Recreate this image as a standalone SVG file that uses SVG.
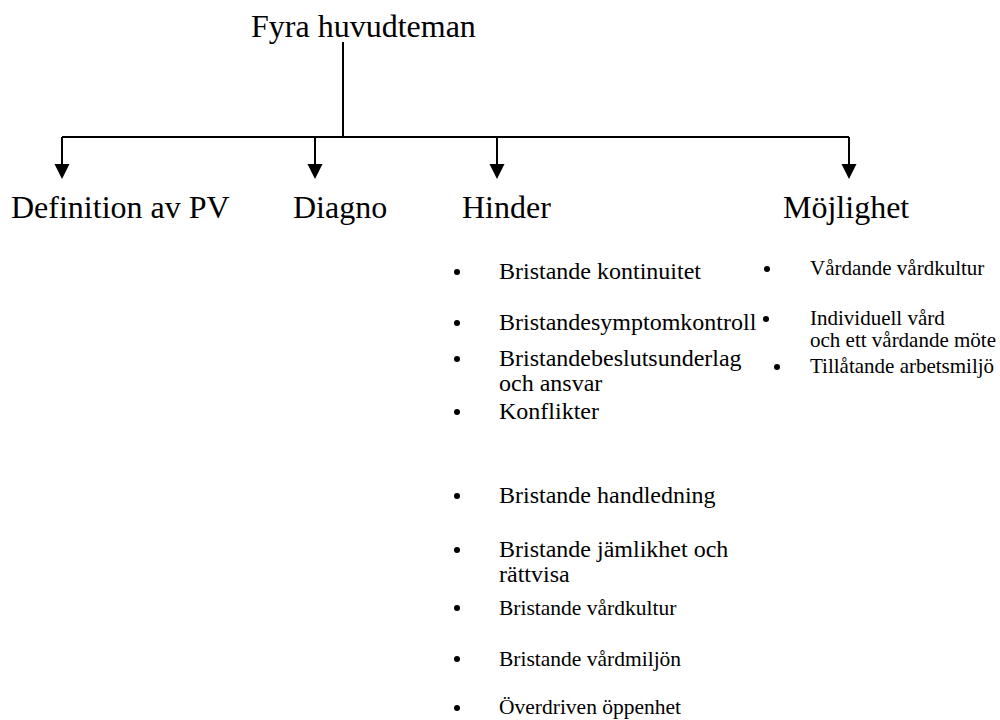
<svg xmlns="http://www.w3.org/2000/svg" width="1000" height="720" viewBox="0 0 1000 720">
<defs>
<style>
text{font-family:"Liberation Serif","Times New Roman",serif;fill:#000}
.big{font-size:32px}
.it{font-size:24px}
.sm{font-size:21.5px}
.xs{font-size:21px}
.ln{stroke:#000;stroke-width:2;fill:none}
.ar{fill:#000}
</style>
</defs>
<rect width="1000" height="720" fill="#fff"/>
<g id="connectors">
<path class="ln" d="M343,42 V137 M62,137 H849 M62,137 V166 M315,137 V166 M497,137 V166 M849,137 V166"/>
<path class="ar" d="M54.5,164 H69.5 L62,179 z M307.5,164 H322.5 L315,179 z M489.5,164 H504.5 L497,179 z M841.5,164 H856.5 L849,179 z"/>
</g>
<g id="root"><text class="big" x="251" y="37">Fyra huvudteman</text></g>
<g id="definition"><text class="big" x="11" y="218">Definition av PV</text></g>
<g id="diagno"><text class="big" x="293" y="218">Diagno</text></g>
<g id="hinder">
<text class="big" x="462" y="218">Hinder</text>
<circle cx="457" cy="272" r="3"/><text class="it" x="499" y="279">Bristande kontinuitet</text>
<circle cx="457" cy="323" r="3"/><text class="it" x="499" y="330">Bristandesymptomkontroll</text>
<circle cx="457" cy="359" r="3"/><text class="it" x="499" y="366">Bristandebeslutsunderlag</text>
<text class="it" x="499" y="391">och ansvar</text>
<circle cx="457" cy="412" r="3"/><text class="it" x="499" y="419">Konflikter</text>
<circle cx="457" cy="496" r="3"/><text class="it" x="499" y="503">Bristande handledning</text>
<circle cx="457" cy="550" r="3"/><text class="it" x="499" y="557">Bristande jämlikhet och</text>
<text class="it" x="499" y="582">rättvisa</text>
<circle cx="457" cy="608" r="3"/><text class="sm" x="499" y="615">Bristande vårdkultur</text>
<circle cx="457" cy="659" r="3"/><text class="sm" x="499" y="666">Bristande vårdmiljön</text>
<circle cx="457" cy="708" r="3"/><text class="sm" x="499" y="714">Överdriven öppenhet</text>
</g>
<g id="mojlighet">
<text class="big" x="783" y="218">Möjlighet</text>
<circle cx="767" cy="269" r="3"/><text class="xs" x="810" y="275">Vårdande vårdkultur</text>
<circle cx="766" cy="319" r="3"/><text class="xs" x="810" y="325">Individuell vård</text>
<text class="xs" x="810" y="347">och ett vårdande möte</text>
<circle cx="777" cy="367" r="3"/><text class="xs" x="810" y="373">Tillåtande arbetsmiljö</text>
</g>
</svg>
